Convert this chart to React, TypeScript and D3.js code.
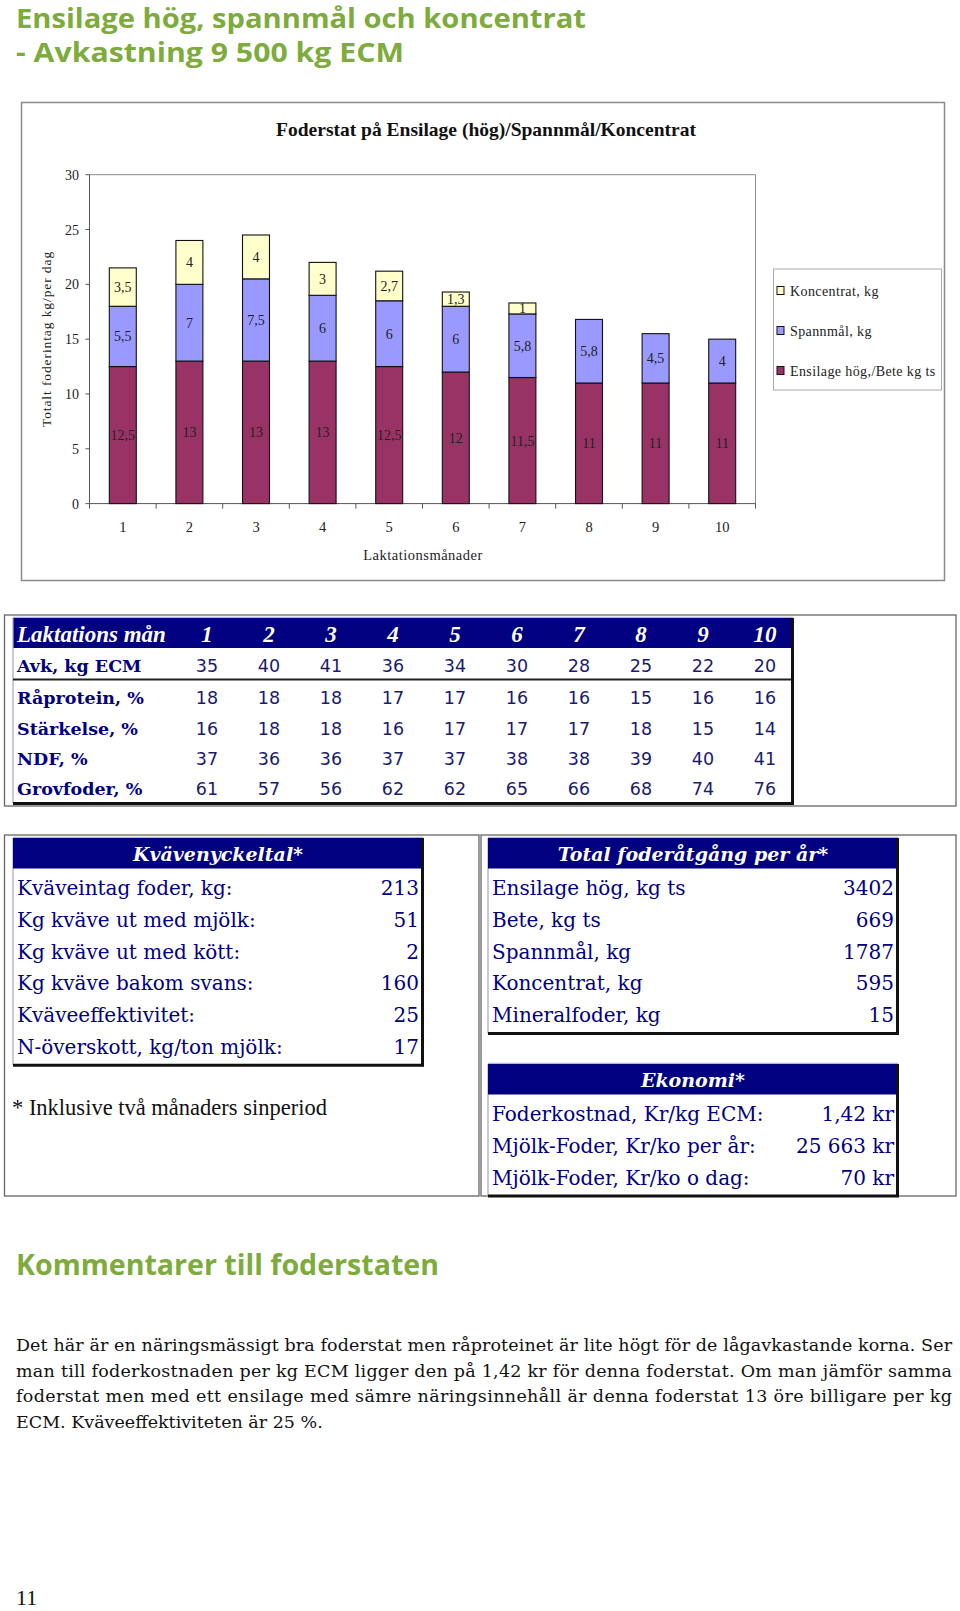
import React from "react";
import * as d3 from "d3";

// chart data
const months = ["1", "2", "3", "4", "5", "6", "7", "8", "9", "10"];
const ensilage = [12.5, 13, 13, 13, 12.5, 12, 11.5, 11, 11, 11];
const spannmal = [5.5, 7, 7.5, 6, 6, 6, 5.8, 5.8, 4.5, 4];
const koncentrat = [3.5, 4, 4, 3, 2.7, 1.3, 1, 0, 0, 0];
const seriesKeys = ["ensilage", "spannmal", "koncentrat"];
const seriesNames = ["Ensilage hög,/Bete kg ts", "Spannmål, kg", "Koncentrat, kg"];
const seriesColors = ["#993366", "#9999FF", "#FFFFCC"];
const yTicks = [0, 5, 10, 15, 20, 25, 30];

// lactation table
const tableRowLabels = ["Avk, kg ECM", "Råprotein, %", "Stärkelse, %", "NDF, %", "Grovfoder, %"];
const avk = [35, 40, 41, 36, 34, 30, 28, 25, 22, 20];
const raprotein = [18, 18, 18, 17, 17, 16, 16, 15, 16, 16];
const starkelse = [16, 18, 18, 16, 17, 17, 17, 18, 15, 14];
const ndf = [37, 36, 36, 37, 37, 38, 38, 39, 40, 41];
const grovfoder = [61, 57, 56, 62, 62, 65, 66, 68, 74, 76];

// side tables
const kvaveLabels = [
  "Kväveintag foder, kg:",
  "Kg kväve ut med mjölk:",
  "Kg kväve ut med kött:",
  "Kg kväve bakom svans:",
  "Kväveeffektivitet:",
  "N-överskott, kg/ton mjölk:",
];
const kvaveValues = ["213", "51", "2", "160", "25", "17"];
const foderLabels = ["Ensilage hög, kg ts", "Bete, kg ts", "Spannmål, kg", "Koncentrat, kg", "Mineralfoder, kg"];
const foderValues = ["3402", "669", "1787", "595", "15"];
const ekonomiLabels = ["Foderkostnad, Kr/kg ECM:", "Mjölk-Foder, Kr/ko per år:", "Mjölk-Foder, Kr/ko o dag:"];
const ekonomiValues = ["1,42 kr", "25 663 kr", "70 kr"];

const bodyLines = [
  "Det här är en näringsmässigt bra foderstat men råproteinet är lite högt för de lågavkastande korna. Ser",
  "man till foderkostnaden per kg ECM ligger den på 1,42 kr för denna foderstat. Om man jämför samma",
  "foderstat men med ett ensilage med sämre näringsinnehåll är denna foderstat 13 öre billigare per kg",
  "ECM. Kväveeffektiviteten är 25 %.",
];

const GREEN = "#7dab3c";
const NAVY = "#000080";
const serif = "'Liberation Serif', 'Times New Roman', serif";
const gserif = "'DejaVu Serif', serif";

const fmt = (v: number) => String(v).replace(".", ",");

function StackedChart() {
  const rows = months.map((m, i) => ({
    month: m,
    ensilage: ensilage[i],
    spannmal: spannmal[i],
    koncentrat: koncentrat[i],
  }));
  const stacked = d3.stack<any>().keys(seriesKeys)(rows);

  const x = d3
    .scaleBand()
    .domain(months)
    .range([89.5, 755.5])
    .paddingInner(0.595)
    .paddingOuter(0.2975);
  const y = d3.scaleLinear().domain([0, 30]).range([503.6, 174.7]);
  const step = x.step();
  const left = 89.5;
  const right = 755.5;

  return (
    <g>
      <rect x={21.5} y={102.5} width={923} height={478} fill="#fff" stroke="#8a8a8a" strokeWidth={1.5} />
      <text x={486} y={136} textAnchor="middle" fontFamily={serif} fontWeight="bold" fontSize={19.5} fill="#111">
        Foderstat på Ensilage (hög)/Spannmål/Koncentrat
      </text>

      {/* plot frame */}
      <line x1={left} x2={right} y1={y(30)} y2={y(30)} stroke="#8a8a8a" />
      <line x1={right} x2={right} y1={y(30)} y2={y(0)} stroke="#8a8a8a" />
      <line x1={left} x2={left} y1={y(30)} y2={y(0)} stroke="#555" />
      <line x1={left} x2={right} y1={y(0)} y2={y(0)} stroke="#555" />

      {yTicks.map((t) => (
        <g key={t}>
          <line x1={left - 4} x2={left} y1={y(t)} y2={y(t)} stroke="#555" />
          <text x={79} y={y(t) + 5} textAnchor="end" fontFamily={serif} fontSize={14} fill="#222">
            {t}
          </text>
        </g>
      ))}
      {d3.range(months.length + 1).map((i) => (
        <line key={i} x1={left + i * step} x2={left + i * step} y1={y(0)} y2={y(0) + 5} stroke="#555" />
      ))}
      {months.map((m) => (
        <text key={m} x={x(m)! + x.bandwidth() / 2} y={532} textAnchor="middle" fontFamily={serif} fontSize={14.5} fill="#222">
          {m}
        </text>
      ))}
      <text x={423} y={560} textAnchor="middle" fontFamily={serif} fontSize={14.5} letterSpacing={0.5} fill="#222">
        Laktationsmånader
      </text>
      <text
        transform="translate(51,339) rotate(-90)"
        textAnchor="middle"
        fontFamily={serif}
        fontSize={13.5}
        letterSpacing={0.9}
        fill="#222"
      >
        Totalt foderintag kg/per dag
      </text>

      {stacked.map((layer, si) => (
        <g key={layer.key}>
          {layer.map((d: any, i: number) => (
            <rect
              key={i}
              x={x(months[i])}
              width={x.bandwidth()}
              y={y(d[1])}
              height={Math.max(0, y(d[0]) - y(d[1]))}
              fill={seriesColors[si]}
              stroke="#111"
              strokeWidth={1.1}
            />
          ))}
          {layer.map((d: any, i: number) =>
            d[1] - d[0] > 0 ? (
              <text
                key={"l" + i}
                x={x(months[i])! + x.bandwidth() / 2}
                y={y((d[0] + d[1]) / 2) + 5}
                textAnchor="middle"
                fontFamily={serif}
                fontSize={14}
                fill="#222"
              >
                {fmt(+(d[1] - d[0]).toFixed(1))}
              </text>
            ) : null
          )}
        </g>
      ))}

      {/* legend */}
      <rect x={773.5} y={269} width={168} height={121} fill="#fff" stroke="#aaa" />
      {[2, 1, 0].map((si, k) => {
        const cy = 291 + k * 40;
        return (
          <g key={si}>
            <rect x={777} y={cy - 4.5} width={7} height={8} fill={seriesColors[si]} stroke="#111" />
            <text x={790} y={cy + 4.5} fontFamily={serif} fontSize={14} letterSpacing={0.4} fill="#222">
              {seriesNames[si]}
            </text>
          </g>
        );
      })}
    </g>
  );
}

function LactationTable() {
  const cols = d3.scalePoint().domain(months).range([207, 765]);
  const valueRows = [avk, raprotein, starkelse, ndf, grovfoder];
  const baselines = [672, 703.5, 734.5, 765, 795];
  return (
    <g>
      <rect x={4.5} y={615} width={951.5} height={191} fill="#fff" stroke="#666" strokeWidth={1.3} />
      <line x1={13} x2={793} y1={617.5} y2={617.5} stroke="#b8b8c8" strokeWidth={1.5} />
      <line x1={13} x2={13} y1={617.5} y2={803} stroke="#b8b8c8" strokeWidth={1.5} />
      <rect x={13.5} y={618} width={779} height={30} fill={NAVY} />
      <text x={17} y={641.5} fontFamily={serif} fontStyle="italic" fontWeight="bold" fontSize={23} fill="#fff">
        Laktations mån
      </text>
      {months.map((m) => (
        <text key={m} x={cols(m)} y={641.5} textAnchor="middle" fontFamily={serif} fontStyle="italic" fontWeight="bold" fontSize={23} fill="#fff">
          {m}
        </text>
      ))}
      {tableRowLabels.map((lab, r) => (
        <g key={lab}>
          <text x={17} y={baselines[r]} fontFamily={gserif} fontWeight="bold" fontSize={17.5} fill={NAVY}>
            {lab}
          </text>
          {valueRows[r].map((v, i) => (
            <text key={i} x={cols(months[i])} y={baselines[r]} textAnchor="middle" fontFamily="'DejaVu Sans', sans-serif" fontSize={17.5} fill="#1a1a70">
              {v}
            </text>
          ))}
        </g>
      ))}
      <line x1={13} x2={793} y1={679.5} y2={679.5} stroke="#222" strokeWidth={2} />
      <line x1={792.5} x2={792.5} y1={618} y2={805} stroke="#111" strokeWidth={3} />
      <line x1={13} x2={794} y1={803.5} y2={803.5} stroke="#111" strokeWidth={3} />
    </g>
  );
}

function SideTable({
  x0,
  x1,
  top,
  title,
  labels,
  values,
}: {
  x0: number;
  x1: number;
  top: number;
  title: string;
  labels: string[];
  values: string[];
}) {
  const rowH = 31.8;
  const headH = 30.5;
  const bottom = top + headH + labels.length * rowH + 6;
  return (
    <g>
      <line x1={x0} x2={x1} y1={top - 0.5} y2={top - 0.5} stroke="#b8b8c8" strokeWidth={1.5} />
      <line x1={x0} x2={x0} y1={top} y2={bottom} stroke="#b8b8c8" strokeWidth={1.5} />
      <rect x={x0} y={top} width={x1 - x0} height={headH} fill={NAVY} />
      <text
        x={(x0 + x1) / 2}
        y={top + 23}
        textAnchor="middle"
        fontFamily={gserif}
        fontStyle="italic"
        fontWeight="bold"
        fontSize={19}
        fill="#fff"
      >
        {title}
      </text>
      {labels.map((lab, i) => (
        <g key={lab}>
          <text x={x0 + 4} y={top + headH + 26.5 + i * rowH} fontFamily={gserif} fontSize={20} fill={NAVY}>
            {lab}
          </text>
          <text x={x1 - 4} y={top + headH + 26.5 + i * rowH} textAnchor="end" fontFamily={gserif} fontSize={20} fill={NAVY}>
            {values[i]}
          </text>
        </g>
      ))}
      <line x1={x1 - 0.5} x2={x1 - 0.5} y1={top} y2={bottom + 1} stroke="#111" strokeWidth={3} />
      <line x1={x0} x2={x1 + 1} y1={bottom} y2={bottom} stroke="#111" strokeWidth={3} />
    </g>
  );
}

export default function App() {
  return (
    <svg
      width={960}
      height={1611}
      style={{ position: "absolute", left: 0, top: 0, background: "#fff" }}
    >
      <rect width={960} height={1611} fill="#fff" />
      <text x={16} y={28} fontFamily="'Open Sans', sans-serif" fontWeight="bold" fontSize={26.5} fill={GREEN} textLength={570} lengthAdjust="spacingAndGlyphs">
        Ensilage hög, spannmål och koncentrat
      </text>
      <text x={16} y={62} fontFamily="'Open Sans', sans-serif" fontWeight="bold" fontSize={26.5} fill={GREEN} textLength={388} lengthAdjust="spacingAndGlyphs">
        - Avkastning 9 500 kg ECM
      </text>

      <StackedChart />
      <LactationTable />

      <rect x={4.5} y={835} width={474.5} height={361} fill="none" stroke="#666" strokeWidth={1.3} />
      <rect x={481} y={835} width={475} height={361} fill="none" stroke="#666" strokeWidth={1.3} />
      <SideTable x0={13} x1={423} top={838} title="Kvävenyckeltal*" labels={kvaveLabels} values={kvaveValues} />
      <SideTable x0={488} x1={898} top={838} title="Total foderåtgång per år*" labels={foderLabels} values={foderValues} />
      <SideTable x0={488} x1={898} top={1064} title="Ekonomi*" labels={ekonomiLabels} values={ekonomiValues} />
      <text x={12} y={1115} fontFamily={serif} fontSize={22.5} fill="#111">
        * Inklusive två månaders sinperiod
      </text>

      <text x={16} y={1275} fontFamily="'Open Sans', sans-serif" fontWeight="bold" fontSize={28} fill={GREEN} textLength={423} lengthAdjust="spacingAndGlyphs">
        Kommentarer till foderstaten
      </text>
      {bodyLines.map((line, i) => (
        <text
          key={i}
          x={16}
          y={1351 + i * 25.7}
          fontFamily={gserif}
          fontSize={17.5}
          fill="#111"
          textLength={i < bodyLines.length - 1 ? 936 : undefined}
          lengthAdjust="spacing"
        >
          {line}
        </text>
      ))}
      <text x={16} y={1605} fontFamily={serif} fontSize={22} fill="#111">
        11
      </text>
    </svg>
  );
}
